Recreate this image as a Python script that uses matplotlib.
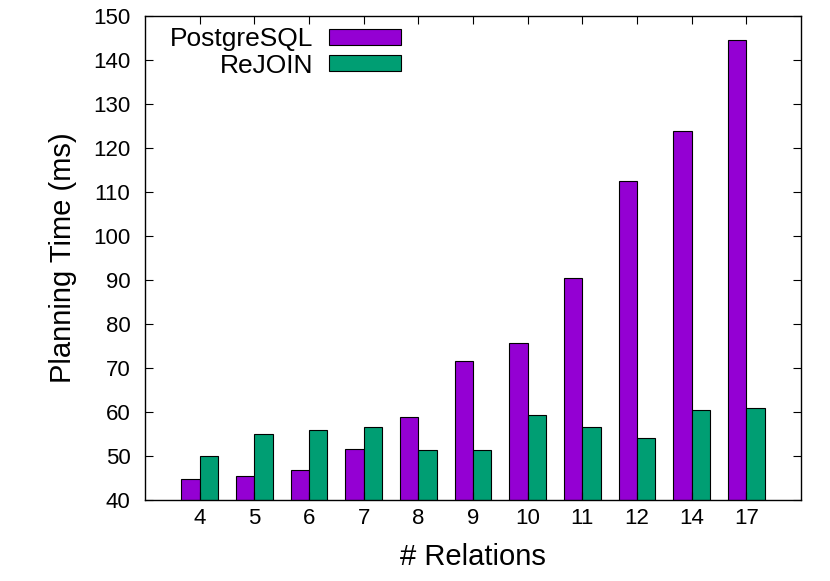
import numpy as np
import matplotlib
matplotlib.use('Agg')
import matplotlib.pyplot as plt

plt.rcParams['font.family'] = ['Liberation Sans', 'DejaVu Sans']

relations = ['4', '5', '6', '7', '8', '9', '10', '11', '12', '14', '17']
postgres = [44.7, 45.4, 46.9, 51.6, 58.9, 71.6, 75.6, 90.4, 112.4, 123.9, 144.5]
rejoin = [50.0, 54.9, 55.8, 56.5, 51.3, 51.3, 59.4, 56.6, 54.2, 60.4, 60.8]

x = np.arange(len(relations))
w = 0.335

fig = plt.figure(figsize=(8.3, 5.81), dpi=100)
ax = fig.add_axes([0.1747, 0.1394, 0.7903, 0.8331])

ax.bar(x - w/2, postgres, w, bottom=0, color='#9400d3', edgecolor='black', linewidth=0.8, label='PostgreSQL')
ax.bar(x + w/2, rejoin, w, bottom=0, color='#009e73', edgecolor='black', linewidth=0.8, label='ReJOIN')

ax.set_xlim(-1, len(relations))
ax.set_ylim(40, 150)
ax.set_yticks(np.arange(40, 151, 10))
ax.set_xticks(x)
ax.set_xticklabels(relations)
ax.tick_params(direction='in', length=6, width=0.8, labelsize=16, top=True, right=True, pad=6)
ax.tick_params(axis='y', pad=10.5)
for s in ax.spines.values():
    s.set_linewidth(1.0)

ax.set_xlabel('# Relations', fontsize=21, labelpad=10)
ax.set_ylabel('Planning Time (ms)', fontsize=21, labelpad=11.5)

ax.legend(loc='upper right', bbox_to_anchor=(0.41, 1.004), frameon=False, markerfirst=False,
          fontsize=19, handlelength=2.7, handleheight=0.53, labelspacing=0.09,
          handletextpad=0.62, borderpad=0.0)

plt.savefig('out.png', dpi=100)
